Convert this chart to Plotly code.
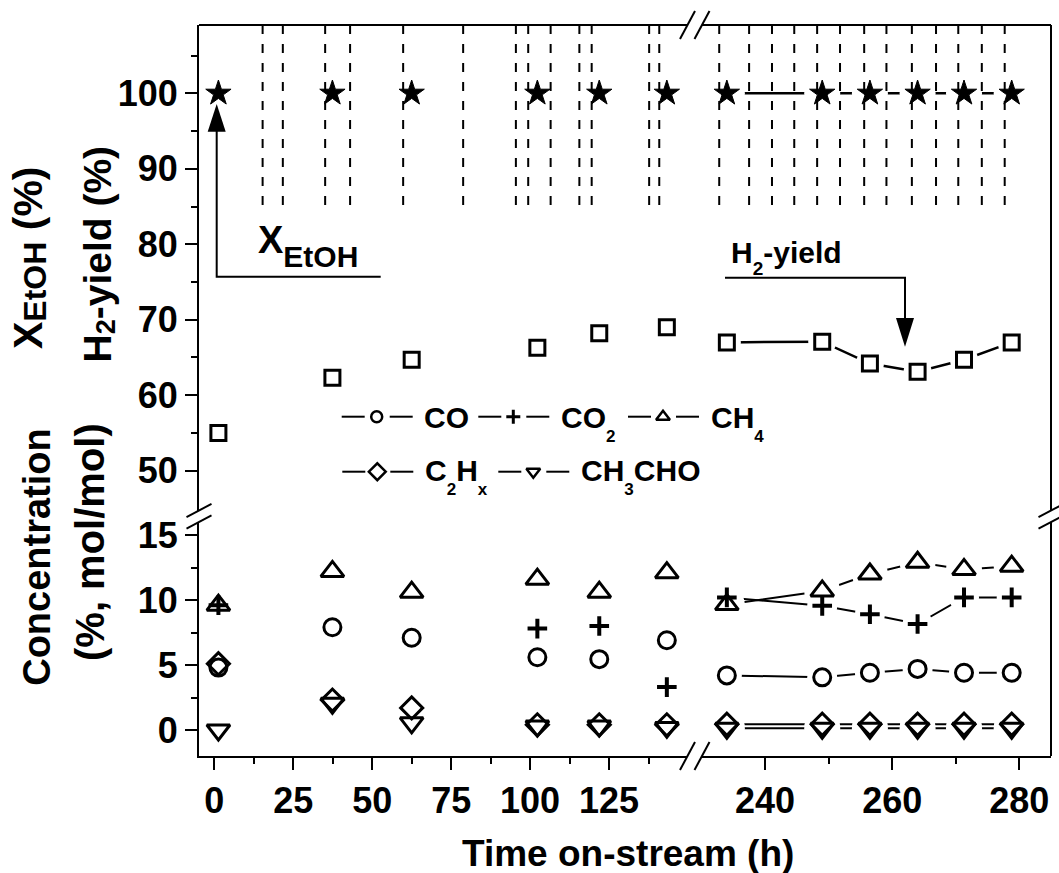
import plotly.graph_objects as go

W, H = 1059, 873
L, R, T, B = 199, 1051, 25, 756          # plot frame (pixels)
XB_PX, YB_PX = 695, 516                  # axis break positions (pixels)
FONT = 'Liberation Sans, Arial, Helvetica, sans-serif'

# ---------------- data ----------------
t_early = [1.3, 37.4, 62.5, 102.3, 121.9, 143.3]
t_late = [234.0, 249.0, 256.5, 264.0, 271.3, 278.8]

xetoh_early = [100, 100, 100, 100, 100, 100]
xetoh_late = [100, 100, 100, 100, 100, 100]
h2_early = [55.0, 62.3, 64.7, 66.3, 68.2, 69.0]
h2_late = [67.0, 67.1, 64.2, 63.1, 64.7, 67.0]

co_early = [4.8, 7.9, 7.1, 5.6, 5.45, 6.9]
co_late = [4.2, 4.05, 4.4, 4.7, 4.4, 4.4]
co2_early = [9.6, None, None, 7.8, 8.0, 3.3]
co2_late = [10.2, 9.55, 8.9, 8.15, 10.2, 10.2]
ch4_early = [9.6, 12.2, 10.6, 11.6, 10.6, 12.1]
ch4_late = [9.65, 10.7, 12.0, 12.9, 12.35, 12.6]
c2hx_early = [5.1, 2.3, 1.7, 0.4, 0.4, 0.4]
c2hx_late = [0.45, 0.45, 0.45, 0.45, 0.45, 0.45]
ch3cho_early = [0.0, 2.05, 0.55, 0.3, 0.3, 0.2]
ch3cho_late = [0.13, 0.13, 0.13, 0.13, 0.13, 0.13]

# sampling instants drawn as dashed verticals in the conversion band
marks_early = [15.3, 21.7, 35.1, 43.0, 59.8, 78.8, 95.5, 99.4, 106.5, 115.6, 119.5, 137.7, 140.9]
marks_late = [232.8, 237.5, 241.1, 244.6, 248.2, 251.8, 255.6, 259.1, 263.1, 266.9, 270.4, 274.1, 277.7]

# axis tick values
xt_early, xm_early = [0, 25, 50, 75, 100, 125], [12.5, 37.5, 62.5, 87.5, 112.5, 137.5]
xt_late, xm_late = [240, 260, 280], [250, 270]
yt_low, ym_low = [0, 5, 10, 15], [2.5, 7.5, 12.5]
yt_up, ym_up = [50, 60, 70, 80, 90, 100], [55, 65, 75, 85, 95, 105]

# ---------------- helpers ----------------
def px(x):
    return (x - L) / (R - L)


def py(y):
    return (B - y) / (B - T)


def seg(x0, y0, x1, y1, w=2):
    return dict(type='line', xref='paper', yref='paper', x0=px(x0), y0=py(y0),
                x1=px(x1), y1=py(y1), line=dict(color='black', width=w), layer='above')


def poly(points, fill='black'):
    d = 'M ' + ' L '.join(f'{px(x):.5f},{py(y):.5f}' for x, y in points) + ' Z'
    return dict(type='path', xref='paper', yref='paper', path=d, fillcolor=fill,
                line=dict(width=0, color=fill), layer='above')


def polyline(points, w=2):
    d = 'M ' + ' L '.join(f'{px(x):.5f},{py(y):.5f}' for x, y in points)
    return dict(type='path', xref='paper', yref='paper', path=d,
                line=dict(width=w, color='black'), layer='above')


def sub(t, fs, drop):
    return f'<span style="font-size:{fs}px;baseline-shift:-{drop}px">{t}</span>'


def mid(baseline, f, drop=0, fs=0):
    top = baseline - 0.905 * f
    bottom = max(baseline + 0.212 * f, baseline + drop + 0.212 * fs)
    return (top + bottom) / 2


def label(x, y, text, size, xanchor='left', angle=0):
    return dict(x=px(x), y=py(y), xref='paper', yref='paper', text=text, showarrow=False,
                xanchor=xanchor, yanchor='middle', textangle=angle, borderpad=0,
                font=dict(size=size, family=FONT, color='black', weight='bold'))


XB = px(XB_PX)
YB = py(YB_PX)

# px/unit of each panel, used to set ranges so the frame edges fall where wanted
x0_px, xs_early = 214.3, 3.158
x240_px, xs_late = 765.0, 6.358
y0_px, ys_low = 730.0, 13.0
y100_px, ys_up = 93.3, 7.548

rng_x_early = [(L - x0_px) / xs_early, (XB_PX - x0_px) / xs_early]
rng_x_late = [240 + (XB_PX - x240_px) / xs_late, 240 + (R - x240_px) / xs_late]
rng_y_low = [(y0_px - B) / ys_low, (y0_px - YB_PX) / ys_low]
rng_y_up = [100 - (YB_PX - y100_px) / ys_up, 100 + (y100_px - T) / ys_up]

# ---------------- series styles ----------------
series = [
    # early, late, symbol, size, marker line width, outer width, y axis, line width
    (xetoh_early, xetoh_late, 'star', 19, 1, 26, 'y2', 2.5),
    (h2_early, h2_late, 'square-open', 15, 3, 18, 'y2', 2.5),
    (co_early, co_late, 'circle-open', 17, 3, 20, 'y', 2),
    (co2_early, co2_late, 'cross-thin-open', 14, 4, 20, 'y', 2),
    (ch4_early, ch4_late, 'triangle-up-open', 20, 3, 26, 'y', 2),
    (c2hx_early, c2hx_late, 'diamond-open', 17, 3, 25, 'y', 2),
    (ch3cho_early, ch3cho_late, 'triangle-down-open', 20, 3, 26, 'y', 2),
]

fig = go.Figure()

# connecting lines (late period only)
for early, late, sym, size, mlw, outer, yax, lw in series:
    fig.add_trace(go.Scatter(x=t_late, y=late, xaxis='x2', yaxis=yax, mode='lines',
                             line=dict(color='black', width=lw), hoverinfo='skip',
                             showlegend=False))
# white gaps around the symbols
for early, late, sym, size, mlw, outer, yax, lw in series:
    fig.add_trace(go.Scatter(x=t_late, y=late, xaxis='x2', yaxis=yax, mode='markers',
                             marker=dict(symbol='circle', size=outer + 10, color='white',
                                         line=dict(width=0)),
                             hoverinfo='skip', showlegend=False))
# symbols
for early, late, sym, size, mlw, outer, yax, lw in series:
    mk = dict(symbol=sym, size=size, color='black', line=dict(width=mlw, color='black'))
    fig.add_trace(go.Scatter(x=t_early, y=early, xaxis='x', yaxis=yax, mode='markers',
                             marker=mk, showlegend=False))
    fig.add_trace(go.Scatter(x=t_late, y=late, xaxis='x2', yaxis=yax, mode='markers',
                             marker=mk, showlegend=False))

# ---------------- in-plot key ----------------
row1, row2 = 416.7, 471.7
key = [
    (row1, 376.7, 'circle-open', 11, 2.5, 'CO', 0),
    (row1, 513.3, 'cross-thin-open', 10, 3, 'CO' + sub('2', 17, 14), 1),
    (row1, 663.0, 'triangle-up-open', 12, 2.5, 'CH' + sub('4', 17, 14), 1),
    (row2, 377.3, 'diamond-open', 13, 2.5, 'C' + sub('2', 17, 14) + 'H' + sub('x', 17, 14), 1),
    (row2, 533.3, 'triangle-down-open', 12, 2.5, 'CH' + sub('3', 17, 14) + 'CHO', 1),
]
shapes = []
annotations = []
for ry, cx, sym, size, mlw, text, has_sub in key:
    fig.add_trace(go.Scatter(x=[cx], y=[ry], xaxis='x3', yaxis='y3', mode='markers',
                             marker=dict(symbol=sym, size=size, color='black',
                                         line=dict(width=mlw, color='black')),
                             hoverinfo='skip', showlegend=False))
    shapes.append(seg(cx - 35, ry, cx - 12, ry))
    shapes.append(seg(cx + 13, ry, cx + 36, ry))
    base = ry + 11.6 if ry == row1 else ry + 10.0
    yc = mid(base, 30, 14, 17) if has_sub else mid(base, 30)
    annotations.append(label(cx + 46.5, yc, text, 30))

# dashed sampling marks (top band)
for m in marks_early:
    shapes.append(dict(type='line', xref='x', yref='y2', x0=m, x1=m, y0=rng_y_up[1], y1=85,
                       line=dict(color='black', width=2, dash='9px,10px'), layer='above'))
for m in marks_late:
    shapes.append(dict(type='line', xref='x2', yref='y2', x0=m, x1=m, y0=rng_y_up[1], y1=85,
                       line=dict(color='black', width=2, dash='9px,10px'), layer='above'))

# frame top / right
shapes.append(seg(L, T, R, T))
shapes.append(seg(R, T, R, B))

# axis break marks
for yy in (B, T):
    c1, c2 = 687.5, 702.0
    shapes.append(poly([(c1 - 7.5, yy + 14), (c1 + 7.5, yy - 14), (c2 + 7.5, yy - 14), (c2 - 7.5, yy + 14)], 'white'))
    shapes.append(seg(c1 - 7.5, yy + 14, c1 + 7.5, yy - 14))
    shapes.append(seg(c2 - 7.5, yy + 14, c2 + 7.5, yy - 14))
for xx in (L, R):
    c1, c2 = 510.5, 522.0
    shapes.append(poly([(xx - 12.5, c1 + 6.6), (xx + 12.5, c1 - 6.6), (xx + 12.5, c2 - 6.6), (xx - 12.5, c2 + 6.6)], 'white'))
    shapes.append(seg(xx - 12.5, c1 + 6.6, xx + 12.5, c1 - 6.6))
    shapes.append(seg(xx - 12.5, c2 + 6.6, xx + 12.5, c2 - 6.6))

# pointer arrows
shapes.append(polyline([(380.7, 276.7), (216.7, 276.7), (216.7, 131.0)]))
shapes.append(poly([(207.7, 131.7), (225.7, 131.7), (216.7, 104.0)]))
shapes.append(polyline([(725.0, 277.7), (905.0, 277.7), (905.0, 318.0)]))
shapes.append(poly([(896.0, 318.0), (914.0, 318.0), (905.0, 346.7)]))

# text labels
annotations.append(label(257, mid(253.3, 38, 13.7, 30), 'X' + sub('EtOH', 30, 13.7), 38))
annotations.append(label(730, mid(263.3, 30, 12, 19), 'H' + sub('2', 19, 12) + '-yield', 30))
annotations.append(label(627.5, mid(866.7, 37), 'Time on-stream (h)', 37, xanchor='center'))
annotations.append(label(29, 258, 'X' + sub('EtOH', 32, 4) + ' (%)', 41, xanchor='center', angle=-90))
annotations.append(label(97.5, 254, 'H' + sub('2', 27, 4) + '-yield (%)', 39, xanchor='center', angle=-90))
annotations.append(label(36.8, 557, 'Concentration', 38, xanchor='center', angle=-90))
annotations.append(label(90, 542, '(%, mol/mol)', 40, xanchor='center', angle=-90))

# ---------------- axes ----------------
tickfont = dict(size=36, family=FONT, color='black', weight='bold')


def axis(domain, rng, anchor, tv, mv):
    return dict(domain=domain, range=rng, anchor=anchor, showline=True, linecolor='black',
                linewidth=2, ticks='outside', ticklen=12, tickwidth=2, tickcolor='black',
                tickmode='array', tickvals=tv, tickfont=tickfont, showgrid=False,
                zeroline=False, fixedrange=True,
                minor=dict(tickmode='array', tickvals=mv, ticks='outside', ticklen=6,
                           tickwidth=2, tickcolor='black', showgrid=False))


fig.update_layout(
    width=W, height=H, autosize=False,
    margin=dict(l=L, r=W - R, t=T, b=H - B, pad=0),
    paper_bgcolor='white', plot_bgcolor='rgba(0,0,0,0)',
    font=dict(family=FONT, color='black', weight='bold'),
    showlegend=False,
    xaxis=axis([0, XB], rng_x_early, 'y', xt_early, xm_early),
    xaxis2=axis([XB, 1], rng_x_late, 'y', xt_late, xm_late),
    yaxis=axis([0, YB], rng_y_low, 'x', yt_low, ym_low),
    yaxis2=axis([YB, 1], rng_y_up, 'x', yt_up, ym_up),
    xaxis3=dict(domain=[0, 1], range=[L, R], anchor='y3', visible=False, fixedrange=True),
    yaxis3=dict(domain=[0, 1], range=[B, T], anchor='x3', visible=False, fixedrange=True),
    shapes=shapes,
    annotations=annotations,
)

fig.write_html("out.html")
